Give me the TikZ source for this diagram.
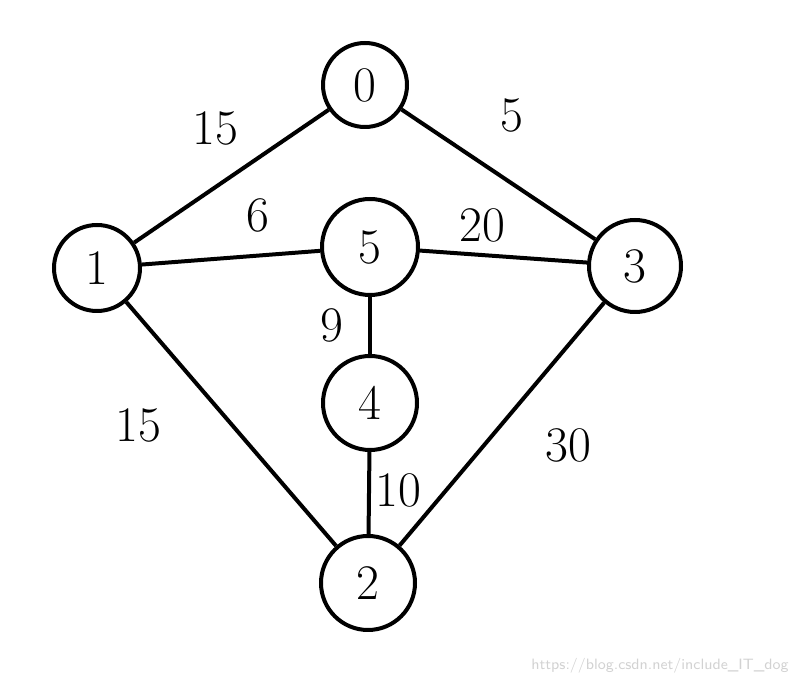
\documentclass[tikz,border=0pt]{standalone}
\usepackage{tikz}
\usetikzlibrary{positioning,calc}

\tikzset{
    vert/.style={draw, circle, line width=2pt, inner sep=0pt, minimum size=#1, font=\Huge},
    vert/.default=86pt,
    wlabel/.style={font=\Huge},
    link/.style={line width=2pt}
}

\begin{document}
\begin{tikzpicture}[x=0.5pt, y=-0.5pt]
    \useasboundingbox (0,0) rectangle (798,688);

    \node[vert=42pt] (n0) at (365,85) {0};
    \node[vert=43pt] (n1) at (97,268) {1};
    \node[vert=48pt] (n5) at (370,247) {5};
    \node[vert=46pt] (n3) at (635,266) {3};
    \node[vert=47pt] (n4) at (370,403) {4};
    \node[vert=47pt] (n2) at (368,583) {2};

    \draw[link] (n0) -- (n1);
    \draw[link] (n0) -- (n3);
    \draw[link] (n1) -- (n5);
    \draw[link] (n5) -- (n3);
    \draw[link] (n5) -- (n4);
    \draw[link] (n4) -- (n2);
    \draw[link] (n1) -- (n2);
    \draw[link] (n3) -- (n2);

    % weights
    \node[wlabel] (w01) at (215,128) {15};
    \node[wlabel] (w03) at (512,115) {5};
    \node[wlabel] (w15) at (258,215) {6};
    \node[wlabel] (w53) at (482,225) {20};
    \node[wlabel] (w54) at (332,325) {9};
    \node[wlabel] (w12) at (138,425) {15};
    \node[wlabel] (w42) at (398,490) {10};
    \node[wlabel] (w32) at (568,445) {30};

    \node[font=\sffamily\fontsize{7.5}{9}\selectfont, text=gray!35] (mark) at (660,666) {https://blog.csdn.net/include\_IT\_dog};
\end{tikzpicture}
\end{document}
